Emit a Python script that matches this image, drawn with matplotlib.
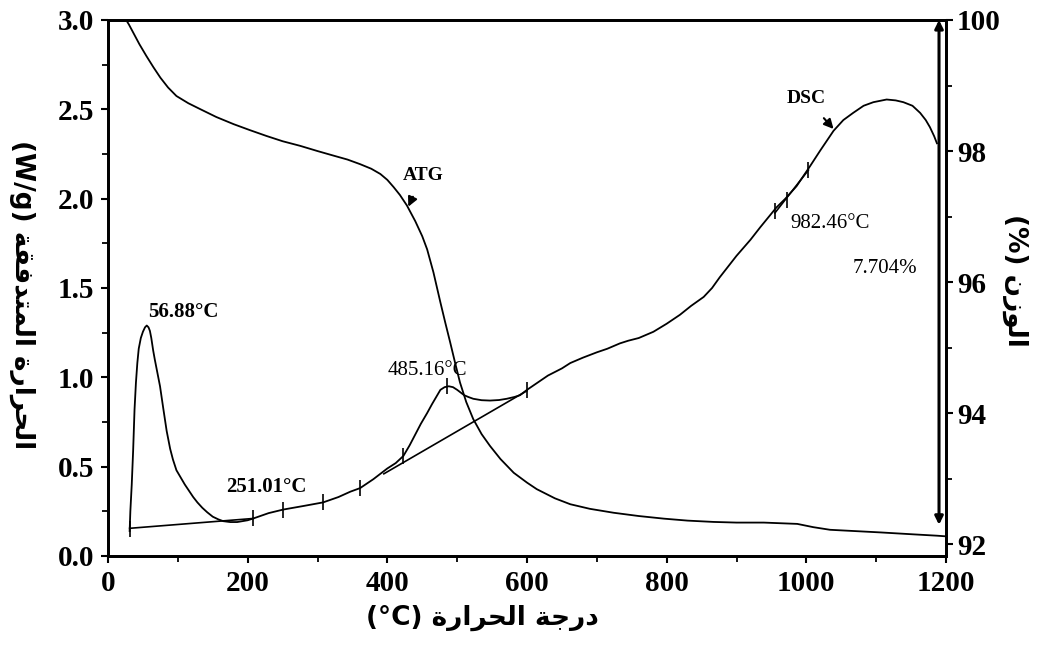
import matplotlib
matplotlib.use("Agg")
import matplotlib.pyplot as plt
from matplotlib.ticker import MultipleLocator, FormatStrFormatter

# DSC heat flow (W/g) vs temperature
dsc_temp = [31, 32, 34, 36, 38, 40, 42, 44, 47, 50, 53, 55.5, 58, 60, 62, 64.7, 67, 70,
            74.5, 79, 84, 89, 93, 98, 104, 110, 116, 122, 128, 135, 142, 150, 158, 165,
            175, 185, 200, 208, 230, 251, 280, 308, 330, 347, 361, 380, 400, 412, 423,
            432, 440, 448, 457, 464, 470, 476, 482, 488, 494, 500, 505, 510, 516, 523,
            535, 547, 560, 571, 582, 590, 600, 630, 650, 662, 680, 700, 715, 733, 745,
            760, 781, 800, 819, 835, 853, 865, 876, 888, 900, 920, 934, 957, 970, 986,
            1005, 1020, 1039, 1053, 1067, 1082, 1096, 1115, 1128, 1139, 1152, 1163,
            1171, 1177, 1183, 1187]
dsc_flow = [0.14, 0.25, 0.40, 0.59, 0.82, 0.97, 1.08, 1.16, 1.22, 1.255, 1.28, 1.29,
            1.28, 1.26, 1.22, 1.15, 1.10, 1.04, 0.95, 0.83, 0.70, 0.60, 0.54, 0.48,
            0.44, 0.40, 0.365, 0.33, 0.30, 0.27, 0.245, 0.22, 0.205, 0.195, 0.19, 0.19,
            0.20, 0.21, 0.24, 0.26, 0.28, 0.30, 0.33, 0.36, 0.38, 0.43, 0.49, 0.52, 0.56,
            0.62, 0.68, 0.74, 0.80, 0.85, 0.89, 0.93, 0.945, 0.95, 0.945, 0.93, 0.915,
            0.90, 0.89, 0.88, 0.872, 0.87, 0.873, 0.88, 0.89, 0.90, 0.93, 1.01, 1.05,
            1.08, 1.11, 1.14, 1.16, 1.19, 1.205, 1.22, 1.255, 1.30, 1.35, 1.40, 1.45,
            1.50, 1.56, 1.62, 1.68, 1.77, 1.84, 1.95, 2.00, 2.07, 2.18, 2.27, 2.38, 2.44,
            2.48, 2.52, 2.54, 2.555, 2.55, 2.54, 2.52, 2.48, 2.44, 2.40, 2.35, 2.31]

# ATG mass (%) vs temperature
atg_temp = [26, 30, 36, 45, 55, 65, 75, 86, 98, 115, 132, 155, 180, 203, 227, 250, 275,
            300, 323, 343, 361, 377, 390, 400, 409, 418, 428, 440, 450, 457, 466, 476,
            483, 490, 497, 504, 513, 523, 535, 547, 562, 581, 600, 614, 640, 662, 690,
            724, 760, 796, 830, 867, 900, 939, 987, 1010, 1034, 1070, 1106, 1154, 1187,
            1200]
atg_mass = [100.0, 99.93, 99.81, 99.63, 99.45, 99.28, 99.12, 98.97, 98.84, 98.73, 98.64,
            98.52, 98.41, 98.32, 98.23, 98.15, 98.08, 98.00, 97.93, 97.87, 97.80, 97.73,
            97.65, 97.56, 97.45, 97.33, 97.17, 96.93, 96.70, 96.50, 96.15, 95.69, 95.38,
            95.08, 94.77, 94.47, 94.17, 93.91, 93.68, 93.50, 93.30, 93.09, 92.94, 92.84,
            92.70, 92.61, 92.54, 92.48, 92.43, 92.39, 92.36, 92.34, 92.33, 92.33, 92.31,
            92.26, 92.22, 92.20, 92.18, 92.15, 92.13, 92.12]

# baselines used for the peak integrations
base1_temp = [31, 208]
base1_flow = [0.155, 0.21]
base2_temp = [395, 600]
base2_flow = [0.46, 0.925]
base3_temp = [955, 1003]
base3_flow = [1.92, 2.16]

# integration limit marks on the DSC trace
mark_temp = [31, 208, 251, 308, 361, 423, 486, 600, 955, 972, 1003]
mark_flow = [0.15, 0.21, 0.26, 0.30, 0.38, 0.56, 0.95, 0.93, 1.93, 1.99, 2.16]

peak_labels = ["56.88°C", "251.01°C", "485.16°C", "982.46°C"]
mass_loss = 7.704

# Arabic labels, pre-shaped (presentation forms, visual order)
xlabel_ar = "(°C) \uFE93\uFEAD\uFE8D\uFEAE\uFEA4\uFEDF\uFE8D \uFE94\uFE9F\uFEAD\uFEA9"
ylabel_ar = "(W/g) \uFE94\uFED8\uFED3\uFEAA\uFE98\uFEE4\uFEDF\uFE8D \uFE93\uFEAD\uFE8D\uFEAE\uFEA4\uFEDF\uFE8D"
y2label_ar = "(%) \uFEE5\uFEAF\uFEEE\uFEDF\uFE8D"

W, H = 1040, 646
fig = plt.figure(figsize=(W / 100, H / 100), dpi=100)
ax = fig.add_axes([108 / W, 90 / H, (946 - 108) / W, 536 / H])
ax2 = ax.twinx()

ax.plot(dsc_temp, dsc_flow, color="black", lw=1.3)
ax.plot(base1_temp, base1_flow, color="black", lw=1.2)
ax.plot(base2_temp, base2_flow, color="black", lw=1.2)
ax.plot(base3_temp, base3_flow, color="black", lw=1.2)
ax.plot(mark_temp, mark_flow, ls="none", marker="|", ms=11, mew=1.2, color="black")
ax2.plot(atg_temp, atg_mass, color="black", lw=1.3)

ax.set_xlim(0, 1200)
ax.set_ylim(0, 3.0)
ax2.set_ylim(91.82, 100.0)

serif = "Liberation Serif"
ax.xaxis.set_major_locator(MultipleLocator(200))
ax.xaxis.set_minor_locator(MultipleLocator(100))
ax.yaxis.set_major_locator(MultipleLocator(0.5))
ax.yaxis.set_minor_locator(MultipleLocator(0.25))
ax.yaxis.set_major_formatter(FormatStrFormatter("%.1f"))
ax2.yaxis.set_major_locator(MultipleLocator(2))
ax2.yaxis.set_minor_locator(MultipleLocator(1))

for a in (ax, ax2):
    a.tick_params(which="major", direction="out", length=5, width=1.5, pad=5)
    a.tick_params(which="minor", direction="out", length=4, width=1.3)
    for s in a.spines.values():
        s.set_linewidth(2)
    for lab in a.get_xticklabels() + a.get_yticklabels():
        lab.set_fontfamily(serif)
        lab.set_fontweight("bold")
        lab.set_fontsize(21)
ax.tick_params(top=False, right=False)
ax2.tick_params(which="both", right=True, left=False, pad=3)

# peak temperatures
ax.text(57, 1.365, peak_labels[0], fontfamily=serif, fontsize=15, fontweight="bold",
        ha="left", va="center")
ax.text(169, 0.386, peak_labels[1], fontfamily=serif, fontsize=15, fontweight="bold",
        ha="left", va="center")
ax.text(400, 1.04, peak_labels[2], fontfamily=serif, fontsize=15,
        ha="left", va="center")
ax.text(977, 1.86, peak_labels[3], fontfamily=serif, fontsize=15,
        ha="left", va="center")

# curve names
ax.annotate("ATG", xy=(430, 1.955), xytext=(451, 2.13), fontfamily=serif, fontsize=14,
            fontweight="bold", ha="center", va="center",
            arrowprops=dict(arrowstyle="-|>", color="black", lw=1.5, mutation_scale=14,
                            shrinkA=8, shrinkB=0))
ax.annotate("DSC", xy=(1039, 2.39), xytext=(1000, 2.56), fontfamily=serif, fontsize=14,
            fontweight="bold", ha="center", va="center",
            arrowprops=dict(arrowstyle="-|>", color="black", lw=1.5, mutation_scale=14,
                            shrinkA=8, shrinkB=0))

# total mass loss
ax2.annotate("", xy=(1190, 100 - mass_loss), xytext=(1190, 100.0),
             arrowprops=dict(arrowstyle="<|-|>", color="black", lw=2.2, mutation_scale=12,
                             shrinkA=0, shrinkB=0))
ax.text(1066, 1.61, f"{mass_loss:.3f}%", fontfamily=serif, fontsize=15,
        ha="left", va="center")

fig.text(482 / W, 1 - 618 / H, xlabel_ar, fontfamily="DejaVu Sans", fontweight="bold",
         fontsize=19, ha="center", va="center")
fig.text(22 / W, 1 - 295 / H, ylabel_ar, fontfamily="DejaVu Sans", fontweight="bold",
         fontsize=19, ha="center", va="center", rotation=270)
fig.text(1015 / W, 1 - 280 / H, y2label_ar, fontfamily="DejaVu Sans", fontweight="bold",
         fontsize=19, ha="center", va="center", rotation=270)

fig.savefig("out.png", dpi=100)
